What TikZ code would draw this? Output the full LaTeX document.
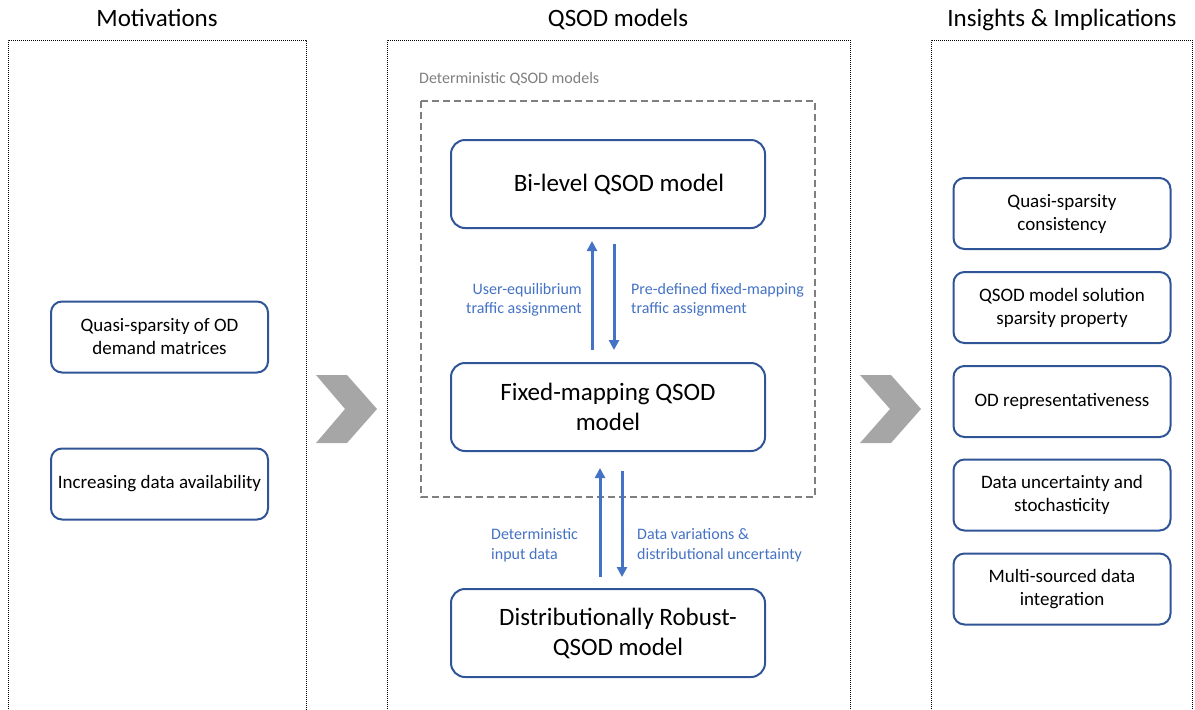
\documentclass[tikz,border=0pt]{standalone}
\usepackage{fontspec}
\setmainfont{Carlito}
\usetikzlibrary{arrows.meta}
\definecolor{boxblue}{HTML}{2F5597}
\definecolor{arrowblue}{HTML}{4472C4}
\definecolor{chevgray}{HTML}{A6A6A6}
\definecolor{framegray}{HTML}{7F7F7F}
\begin{document}
\begin{tikzpicture}[x=1pt,y=-1pt,
  panel/.style={draw=black, line width=1pt, dash pattern=on 1pt off 1pt},
  title/.style={font=\fontsize{25}{30}\selectfont, inner sep=0, anchor=base},
  model/.style={draw=boxblue, line width=2pt, rounded corners=14pt, minimum width=314pt,
    minimum height=88pt, align=center, font=\fontsize{25}{30}\selectfont, inner sep=0},
  item/.style={draw=boxblue, line width=2pt, rounded corners=11pt, minimum width=217pt,
    minimum height=71pt, align=center, font=\fontsize{19}{23}\selectfont, inner sep=0},
  flow/.style={draw=arrowblue, line width=3pt, -{Triangle[length=10pt,width=10pt]}},
  flowlabel/.style={text=arrowblue, font=\fontsize{16}{19.5}\selectfont, inner sep=0},
  chevron/.style={fill=chevgray}
]
\useasboundingbox (0,0) rectangle (1195,710);

% column frames (open at the bottom)
\draw[panel] (8,715) |- (306,40) -- (306,715);
\draw[panel] (387,715) |- (850,40) -- (850,715);
\draw[panel] (931,715) |- (1192,40) -- (1192,715);

% column titles
\node[title] (t1) at (157,26) {Motivations};
\node[title] (t2) at (618,26) {QSOD models};
\node[title] (t3) at (1062,26) {Insights \& Implications};

% deterministic group frame
\draw[framegray, line width=2pt, dash pattern=on 7pt off 4pt] (421,101) rectangle (815,497);
\node[anchor=west, text=framegray, font=\fontsize{16}{19}\selectfont, inner sep=0]
  (detlbl) at (419,79) {Deterministic QSOD models};

% model boxes
\node[model] (bl) at (608,184) {\hspace*{22pt}Bi-level QSOD model};
\node[model] (fm) at (608,407) {Fixed-mapping QSOD\\model};
\node[model] (dr) at (608,633) {\hspace*{20pt}Distributionally Robust-\\\hspace*{20pt}QSOD model};

% motivations
\node[item] (m1) at (159.5,337) {Quasi-sparsity of OD\\demand matrices};
\node[item] (m2) at (159.5,484) {Increasing data availability};

% insights
\node[item] (i1) at (1062,213.5) {Quasi-sparsity\\consistency};
\node[item] (i2) at (1062,307.5) {QSOD model solution\\sparsity property};
\node[item] (i3) at (1062,401.5) {OD representativeness};
\node[item] (i4) at (1062,495) {Data uncertainty and\\stochasticity};
\node[item] (i5) at (1062,589) {Multi-sourced data\\integration};

% flows between models
\draw[flow] ([xshift=-16pt,yshift=12pt]fm.north) -- ([xshift=-16pt,yshift=-12pt]bl.south);
\draw[flow] ([xshift=6pt,yshift=-15pt]bl.south) -- ([xshift=6pt,yshift=12pt]fm.north);
\draw[flow] ([xshift=-8pt,yshift=11pt]dr.north) -- ([xshift=-8pt,yshift=-16pt]fm.south);
\draw[flow] ([xshift=14pt,yshift=-19pt]fm.south) -- ([xshift=14pt,yshift=11pt]dr.north);

\node[flowlabel, anchor=east, align=right] (ue) at (582,300) {User-equilibrium\\traffic assignment};
\node[flowlabel, anchor=west, align=left] (pd) at (631,300) {Pre-defined fixed-mapping\\traffic assignment};
\node[flowlabel, anchor=west, align=left] (di) at (491,545) {Deterministic\\input data};
\node[flowlabel, anchor=west, align=left] (dv) at (637,545) {Data variations \&\\distributional uncertainty};

% chevrons between columns
\fill[chevron] (316,375) -- (347,375) -- (377,409) -- (347,443) -- (316,443) -- (345,409) -- cycle;
\fill[chevron] (860,375) -- (891,375) -- (921,409) -- (891,443) -- (860,443) -- (890,409) -- cycle;
\end{tikzpicture}
\end{document}
